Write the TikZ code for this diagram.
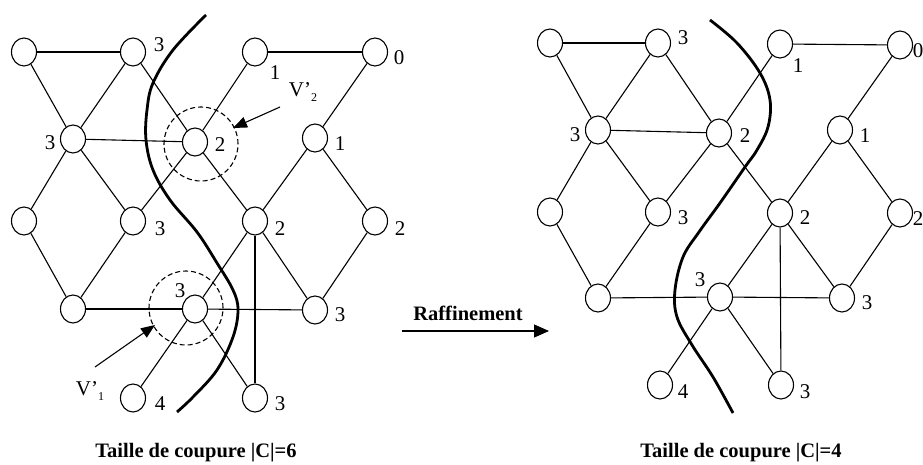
\documentclass[tikz,border=0pt]{standalone}
\usepackage{fontspec}
\setmainfont{Liberation Serif}
\usetikzlibrary{shapes.geometric,arrows.meta}
\tikzset{
  vtx/.style={draw,ellipse,minimum width=25pt,minimum height=28pt,inner sep=0pt,fill=white,line width=1.1pt},
  edge/.style={line width=1.1pt},
  lbl/.style={inner sep=0pt,font=\fontsize{21}{23}\selectfont},
  cutline/.style={line width=2.8pt},
  dashcirc/.style={draw,circle,dashed,dash pattern=on 5pt off 3pt,minimum size=74pt,inner sep=0pt,line width=1.1pt},
  ptr/.style={line width=1.1pt,-{Triangle[length=14pt,width=11pt]}},
  caption/.style={inner sep=0pt,font=\fontsize{20.5}{23}\selectfont\bfseries}
}
\newcommand{\vlab}[1]{V’\raisebox{-5pt}{\fontsize{12}{12}\selectfont #1}}
\begin{document}
\begin{tikzpicture}[x=1pt,y=-1pt]
\useasboundingbox (0,0) rectangle (923,465);
% ---------- left graph ----------
\node[dashcirc] (c2) at (201,144) {};
\node[dashcirc] (c1) at (186,308) {};
\node[vtx] (A) at (24,52) {};
\node[vtx] (B) at (133,52) {};
\node[vtx] (C) at (255,52) {};
\node[vtx] (D) at (375,52) {};
\node[vtx] (E) at (73,139) {};
\node[vtx] (F) at (195,142) {};
\node[vtx] (G) at (315,138) {};
\node[vtx] (H) at (24,221) {};
\node[vtx] (I) at (133,221) {};
\node[vtx] (J) at (255,221) {};
\node[vtx] (K) at (375,221) {};
\node[vtx] (L) at (73,309) {};
\node[vtx] (M) at (195,309) {};
\node[vtx] (N) at (315,310) {};
\node[vtx] (O) at (133,398) {};
\node[vtx] (P) at (255,398) {};
\foreach \u/\v in {A/B,C/D,A/E,B/E,B/F,C/F,D/G,E/F,E/H,E/I,F/I,F/J,G/J,G/K,H/L,I/L,J/M,J/N,K/N,L/M,M/N,M/O,M/P,J/P}
  \draw[edge] (\u) -- (\v);
\node[lbl] (lB) at (159,45) {3};
\node[lbl] (lC) at (275,73) {1};
\node[lbl] (lD) at (399,58) {0};
\node[lbl] (lE) at (50,143) {3};
\node[lbl] (lF) at (220,145) {2};
\node[lbl] (lG) at (340,144) {1};
\node[lbl] (lI) at (160,229) {3};
\node[lbl] (lJ) at (280,229) {2};
\node[lbl] (lK) at (400,229) {2};
\node[lbl] (lM) at (180,291) {3};
\node[lbl] (lN) at (340,315) {3};
\node[lbl] (lO) at (160,404) {4};
\node[lbl] (lP) at (280,404) {3};
\draw[cutline] plot[smooth,tension=0.6] coordinates {(206,15) (173,50) (153,83) (147,110) (146,140) (153,170) (170,200) (197,232) (217,263) (233,290) (238,310) (233,337) (217,370) (193,397) (177,412)};
\node[lbl] (v2) at (303,92) {\vlab{2}};
\coordinate (v2s) at (280,107);
\coordinate (v2t) at (233,128);
\draw[ptr] (v2s) -- (v2t);
\node[lbl] (v1) at (90,391) {\vlab{1}};
\coordinate (v1s) at (95,367);
\coordinate (v1t) at (155,325);
\draw[ptr] (v1s) -- (v1t);
\node[caption] (cap1) at (196,453) {Taille de coupure |C|=6};
% ---------- refinement arrow ----------
\node[caption] (raf) at (468,313) {Raffinement};
\coordinate (rs) at (402,331);
\coordinate (rt) at (549,331);
\draw[line width=1.1pt,-{Triangle[length=15pt,width=13pt]}] (rs) -- (rt);
% ---------- right graph ----------
\node[vtx] (A2) at (550,43) {};
\node[vtx] (B2) at (658,43) {};
\node[vtx] (C2) at (780,44) {};
\node[vtx] (D2) at (900,45) {};
\node[vtx] (E2) at (598,130) {};
\node[vtx] (F2) at (719,133) {};
\node[vtx] (G2) at (840,130) {};
\node[vtx] (H2) at (550,212) {};
\node[vtx] (I2) at (658,212) {};
\node[vtx] (J2) at (780,213) {};
\node[vtx] (K2) at (900,213) {};
\node[vtx] (L2) at (598,298) {};
\node[vtx] (M2) at (720,297) {};
\node[vtx] (N2) at (842,298) {};
\node[vtx] (O2) at (660,385) {};
\node[vtx] (P2) at (781,385) {};
\foreach \u/\v in {A2/B2,C2/D2,A2/E2,B2/E2,B2/F2,C2/F2,D2/G2,E2/F2,E2/H2,E2/I2,F2/I2,F2/J2,G2/J2,G2/K2,H2/L2,I2/L2,J2/M2,J2/N2,K2/N2,L2/M2,M2/N2,M2/O2,M2/P2,J2/P2}
  \draw[edge] (\u) -- (\v);
\node[lbl] (lB2) at (683,38) {3};
\node[lbl] (lC2) at (798,66) {1};
\node[lbl] (lD2) at (918,51) {0};
\node[lbl] (lE2) at (575,135) {3};
\node[lbl] (lF2) at (745,136) {2};
\node[lbl] (lG2) at (865,136) {1};
\node[lbl] (lI2) at (683,218) {3};
\node[lbl] (lJ2) at (805,218) {2};
\node[lbl] (lK2) at (918,219) {2};
\node[lbl] (lM2) at (700,280) {3};
\node[lbl] (lN2) at (867,303) {3};
\node[lbl] (lO2) at (683,392) {4};
\node[lbl] (lP2) at (805,392) {3};
\draw[cutline] plot[smooth,tension=0.6] coordinates {(710,20) (737,43) (760,73) (770,100) (768,127) (757,150) (745,167) (720,203) (699,232) (683,257) (675,290) (677,317) (692,345) (713,377) (733,413)};
\node[caption] (cap2) at (741,453) {Taille de coupure |C|=4};
\end{tikzpicture}
\end{document}
